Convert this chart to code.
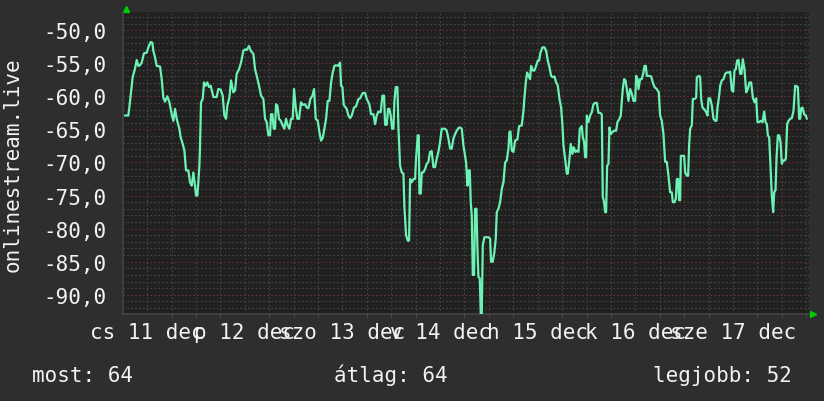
import matplotlib
matplotlib.use("Agg")
import numpy as np, pandas as pd, seaborn as sns, matplotlib.pyplot as plt

# hours since 11 dec 00:00, signal in dBm
hours = [
    6.54, 7.36, 7.6, 8.02, 8.43, 9.0, 9.42, 9.83, 10.23, 10.65,
    11.2, 11.87, 12.28, 12.85, 13.26, 13.5, 13.92, 14.33, 15.15, 15.56,
    15.97, 16.38, 16.95, 17.45, 18.02, 18.43, 18.84, 19.25, 19.9, 20.23,
    20.73, 21.14, 21.54, 22.12, 22.52, 22.94, 23.34, 23.75, 24.0, 24.33,
    24.57, 24.82, 24.98, 25.23, 25.65, 25.97, 26.38, 26.78, 27.2, 27.61,
    28.26, 29.08, 29.48, 30.07, 30.56, 30.96, 31.38, 31.7, 32.19, 32.61,
    33.17,
    33.59, 34.0, 34.57, 35.07, 35.64, 36.05, 36.46, 37.03, 37.44, 38.1,
    38.51, 38.92, 39.49, 39.98, 40.56, 40.97, 41.38, 41.79, 42.2, 42.44,
    42.77, 43.1, 43.43, 43.67, 44.0, 44.41, 44.82, 45.31, 45.72, 46.13,
    46.54, 46.95, 47.36, 47.77, 48.1, 48.51, 48.92, 49.33, 49.82, 50.23,
    50.8, 51.21, 51.62, 52.12, 52.61, 53.02, 53.43, 53.92, 54.33, 54.74,
    55.15, 55.56, 55.97, 56.38, 56.79, 57.2, 57.61, 58.02, 58.43, 59.0,
    59.41, 59.66, 59.98, 60.31, 61.05, 61.46,
    61.87, 62.28, 62.85, 63.35, 63.92, 64.33, 64.98, 65.56, 65.97, 66.62,
    67.03, 67.61, 68.02, 68.43, 68.84, 69.41, 69.82, 70.23, 70.48, 70.89,
    71.21, 71.54, 71.87, 72.2, 72.53, 72.77, 73.1, 73.51, 73.76, 74.17,
    74.58, 74.99, 75.23, 75.64, 76.05, 76.38, 76.63, 77.04, 77.45, 77.85,
    78.1, 78.51, 78.76, 78.92, 79.25, 79.5, 79.9, 80.31, 80.72, 81.13,
    81.54, 81.95, 82.36, 82.77, 83.18, 83.59, 84.0, 84.41, 84.82, 85.23,
    85.64, 86.05, 86.46, 86.87, 87.28, 87.69, 88.1, 88.51, 88.92, 89.33,
    89.74,
    90.4, 90.72, 90.97, 91.3, 91.54, 91.79, 92.04, 92.36, 92.61, 92.94,
    93.18, 93.43, 93.76, 94.0, 94.25, 94.5, 94.9, 95.31, 95.89, 96.3,
    96.54, 96.95, 97.36, 97.69, 97.94, 98.35, 98.76, 99.17, 99.58, 99.99,
    100.4, 100.81, 101.05, 101.3, 101.63, 102.04, 102.45, 103.02, 103.43, 104.08,
    104.5, 104.74, 105.07, 105.4, 105.72, 106.13, 106.38, 106.79, 107.2, 107.61,
    108.02, 108.35, 108.68, 109.17, 109.66, 110.07, 110.48, 110.89, 111.3, 111.63,
    112.12, 112.53, 112.94, 113.35, 113.76, 114.09, 114.33, 114.74, 115.15, 115.4,
    115.72, 116.13, 116.54, 116.87, 117.28, 117.69, 118.02, 118.35, 118.84,
    119.09, 119.41, 119.66, 119.91, 120.07, 120.48, 120.89, 121.3, 121.71, 122.12,
    122.53, 122.94, 123.35, 123.76, 124.0, 124.33, 124.58, 124.82, 125.07, 125.4,
    125.64, 125.97, 126.38, 126.79, 127.28, 127.61, 128.1, 128.43, 128.68, 128.92,
    129.25, 129.58, 129.91, 130.32, 130.73, 131.14, 131.55, 131.96, 132.2, 132.53,
    132.78, 133.18, 133.59, 134.0, 134.25, 134.58, 134.82, 135.32, 135.89, 136.3,
    136.71, 137.28, 137.77, 138.1, 138.51, 138.92, 139.33, 139.74, 140.15, 140.56,
    140.97, 141.22, 141.63, 141.96, 142.2, 142.53, 142.77, 143.02, 143.19, 143.51,
    144.0, 144.25, 144.66, 144.99, 145.23, 145.48, 145.89, 146.14, 146.55, 146.96,
    147.12, 147.69, 147.94, 148.19, 148.51, 149.01, 149.41, 149.74, 149.99, 150.4,
    150.81, 151.22, 151.63, 151.96, 152.2, 152.61, 152.86, 153.27, 153.68, 154.09,
    154.5, 154.91, 155.32, 155.73, 156.05, 156.38, 156.71, 157.04, 157.37, 157.78,
    158.1, 158.43, 158.84, 159.25, 159.66, 160.07, 160.48, 160.89, 161.3, 161.71,
    162.04, 162.45, 162.86, 163.27, 163.68, 164.01, 164.34, 164.58, 164.91, 165.24,
    165.56, 165.89, 166.14, 166.47, 166.71, 167.04, 167.37, 167.7, 168.02, 168.35,
    168.68, 169.01, 169.33, 169.66, 170.07, 170.48, 170.89, 171.3, 171.71, 171.96,
    172.29, 172.53, 172.78, 173.11, 173.51, 173.92, 174.17,
]
signal = [
    -62.9, -62.9, -61.7, -59.4, -57.1, -55.8, -54.5, -55.4, -55.3, -54.9,
    -53.5, -53.4, -52.6, -51.8, -51.9, -53.1, -54.1, -55.4, -55.5, -57.4,
    -60.2, -60.8, -60.0, -60.9, -62.7, -63.7, -61.9, -63.4, -64.9, -66.2,
    -67.2, -68.2, -71.2, -71.2, -73.0, -73.5, -71.5, -73.5, -75.0, -75.0,
    -73.0, -70.5, -67.7, -60.9, -60.4, -57.9, -58.4, -57.9, -58.6, -58.4,
    -60.1, -60.1, -58.9, -59.0, -59.9, -62.9, -63.4, -61.4, -60.2, -57.6,
    -59.4,
    -59.1, -56.6, -55.9, -54.9, -53.1, -52.9, -53.0, -52.4, -53.1, -53.6,
    -55.9, -56.9, -58.4, -59.9, -60.4, -63.4, -63.9, -65.9, -65.9, -62.7,
    -62.7, -64.9, -64.9, -61.2, -61.4, -63.4, -63.7, -64.4, -64.9, -63.4,
    -64.4, -64.9, -63.4, -63.4, -58.9, -61.7, -63.4, -63.4, -60.9, -61.3,
    -61.2, -61.7, -61.8, -60.4, -59.9, -58.9, -63.4, -63.7, -65.4, -66.7,
    -66.3, -64.9, -63.4, -60.7, -60.7, -57.9, -56.4, -55.4, -55.3, -55.4,
    -54.9, -58.4, -58.6, -61.3, -61.9, -62.9,
    -63.3, -62.9, -61.7, -61.5, -60.4, -60.3, -59.5, -59.5, -60.4, -61.2,
    -62.7, -62.7, -64.2, -62.9, -62.3, -62.4, -59.9, -59.9, -64.3, -64.3,
    -61.9, -61.9, -62.9, -64.9, -64.9, -60.7, -58.6, -58.6, -64.7, -70.5,
    -71.5, -71.7, -76.7, -81.0, -81.8, -81.8, -72.5, -73.0, -72.5, -72.5,
    -69.4, -65.9, -65.9, -74.7, -74.7, -71.5, -71.5, -71.0, -70.2, -69.9,
    -68.4, -68.3, -70.7, -70.7, -69.4, -68.4, -66.9, -64.9, -64.9, -64.9,
    -65.2, -66.4, -67.9, -67.9, -66.4, -65.7, -65.2, -64.8, -64.7, -64.9,
    -67.4,
    -70.0, -73.5, -71.2, -71.2, -76.0, -78.0, -87.0, -87.0, -77.0, -77.0,
    -83.0, -87.3, -87.5, -92.8, -92.8, -82.5, -81.3, -81.3, -81.3, -81.5,
    -85.0, -85.0, -83.5, -81.5, -77.5, -77.0, -76.0, -74.0, -73.0, -70.0,
    -69.7, -67.9, -65.4, -65.3, -68.2, -68.4, -66.7, -66.5, -64.5, -64.4,
    -62.2, -60.2, -57.9, -56.4, -56.9, -57.4, -55.4, -56.1, -56.1, -55.4,
    -54.6, -54.6, -53.4, -52.6, -52.6, -53.1, -54.6, -55.6, -56.9, -57.1,
    -57.0, -57.9, -58.4, -60.4, -61.7, -64.4, -67.4, -69.4, -71.7, -71.7,
    -70.0, -67.2, -68.7, -67.7, -68.4, -68.2, -68.4, -64.9, -64.5,
    -66.2, -66.9, -69.2, -69.2, -62.9, -63.9, -62.9, -62.4, -61.2, -61.0,
    -61.0, -62.5, -62.5, -62.7, -75.2, -76.0, -77.5, -77.5, -70.5, -70.2,
    -64.7, -65.7, -65.4, -65.2, -65.2, -63.9, -63.4, -62.9, -60.7, -58.9,
    -57.4, -57.6, -58.9, -60.7, -58.9, -59.6, -60.7, -60.7, -56.9, -57.4,
    -58.9, -57.4, -57.4, -56.4, -55.4, -55.4, -56.9, -56.9, -57.0, -57.9,
    -58.6, -58.9, -59.4, -62.9, -63.7, -65.7, -69.9, -69.9, -72.0, -74.5,
    -74.5, -76.0, -76.0, -75.5, -72.5, -72.5, -75.7, -75.7, -69.0, -69.0,
    -69.0, -71.5, -72.0, -72.0, -67.4, -64.9, -64.4, -60.4, -60.4, -60.2,
    -57.1, -56.9, -57.1, -60.4, -61.7, -62.0, -62.4, -62.9, -60.3, -60.3,
    -61.4, -63.4, -63.7, -63.7, -61.7, -59.9, -58.4, -57.6, -57.4, -56.6,
    -56.4, -56.4, -56.3, -59.1, -59.3, -56.1, -55.9, -54.6, -54.5, -56.6,
    -56.6, -54.4, -55.9, -59.4, -58.9, -57.9, -57.9, -60.2, -60.9, -60.3,
    -63.9, -63.9, -63.7, -63.9, -62.3, -63.9, -64.2, -65.9, -66.2, -70.5,
    -75.0, -77.5, -74.5, -74.2, -69.4, -65.9, -65.9, -66.9, -70.2, -69.7,
    -69.7, -69.4, -64.2, -63.7, -63.4, -63.3, -62.2, -58.4, -58.5, -58.6,
    -63.4, -63.4, -61.8, -61.7, -62.7, -62.9, -63.4,
]

day_labels = ["cs 11 dec", "p 12 dec", "szo 13 dec", "v 14 dec",
              "h 15 dec", "k 16 dec", "sze 17 dec"]
y_ticks = [-50, -55, -60, -65, -70, -75, -80, -85, -90]
footer = ["most: 64", "átlag: 64", "legjobb: 52"]

BG = "#2e2e2e"
PLOT_BG = "#212121"
LINE = "#6cf2b4"
MINOR = "#4e4e4e"
MAJOR = "#743232"
TXT = "#f2f2f2"

sns.set_style("dark")
plt.rcParams["font.family"] = ["DejaVu Sans Mono"]

fig = plt.figure(figsize=(8.24, 4.02), dpi=100, facecolor=BG)
ax = fig.add_axes([123.5 / 824, 1 - 315 / 402, 685.5 / 824, 301.7 / 402])
ax.set_facecolor(PLOT_BG)

x0, x1 = 6.17, 174.7
y0, y1 = -92.9, -47.3

# rrdtool style grid: grey every 1 dBm / 6 h, red every 5 dBm / day
dots = (0, (1.5, 2.5))
for v in range(-92, -47):
    c = MAJOR if v % 5 == 0 else MINOR
    ax.axhline(v, color=c, lw=0.7, ls=dots, zorder=1)
for h in range(12, 175, 6):
    c = MAJOR if h % 24 == 0 else MINOR
    ax.axvline(h, color=c, lw=0.7, ls=dots, zorder=1)

df = pd.DataFrame({"hour": hours, "rssi": signal})
sns.lineplot(data=df, x="hour", y="rssi", ax=ax, color=LINE, lw=1.6,
             sort=False, estimator=None, zorder=3)

ax.set_xlim(x0, x1)
ax.set_ylim(y0, y1)
ax.set_xlabel("")
ax.set_ylabel("")

ax.set_yticks(y_ticks)
ax.set_yticklabels([f"{v},0" for v in y_ticks])
ax.set_xticks([12 + 24 * i for i in range(len(day_labels))])
ax.set_xticklabels(day_labels)
ax.set_xticks(np.arange(12, 175, 6), minor=True)
ax.tick_params(axis="both", which="major", length=0, colors=TXT, labelsize=15)
ax.tick_params(axis="y", pad=12)
ax.tick_params(axis="x", pad=6)
ax.tick_params(axis="x", which="minor", length=3, color=MINOR, bottom=True)
ax.grid(False)

for s in ["top", "right"]:
    ax.spines[s].set_visible(False)
for s in ["left", "bottom"]:
    ax.spines[s].set_color("#444444")
    ax.spines[s].set_linewidth(1.2)

# little green axis arrows
ax.plot([0.003], [1.012], marker="^", color="#00d000", ms=4,
        transform=ax.transAxes, clip_on=False)
ax.plot([1.006], [0.0], marker=">", color="#00d000", ms=4,
        transform=ax.transAxes, clip_on=False)

fig.text(12.5 / 824, 0.59, "onlinestream.live", rotation=90, color=TXT,
         fontsize=15, ha="center", va="center")

fig.text(32.5 / 824, 0.05, footer[0], color=TXT, fontsize=15, ha="left", va="baseline")
fig.text(334.5 / 824, 0.05, footer[1], color=TXT, fontsize=15, ha="left", va="baseline")
fig.text(792 / 824, 0.05, footer[2], color=TXT, fontsize=15, ha="right", va="baseline")

fig.savefig("out.png", dpi=100, facecolor=BG)
